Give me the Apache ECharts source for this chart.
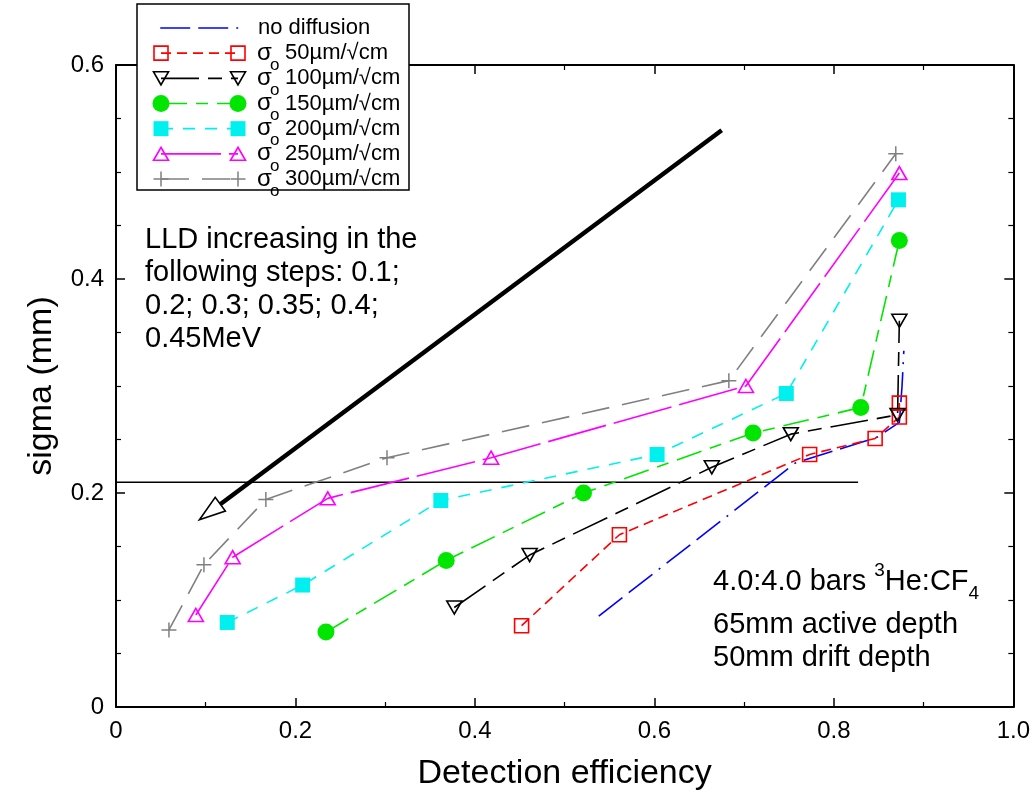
<!DOCTYPE html>
<html>
<head>
<meta charset="utf-8">
<script src="https://cdn.jsdelivr.net/npm/echarts@6/dist/echarts.min.js"></script>
<style>
  html, body { margin: 0; padding: 0; background: #fff; }
  #chart { width: 1033px; height: 800px; }
</style>
</head>
<body>
<div id="chart"></div>
<script>
// Detection efficiency (x) vs. position resolution sigma in mm (y),
// one curve per diffusion coefficient, points ordered by efficiency.
const noDiffusion = [[0.538, 0.085], [0.757, 0.228], [0.848, 0.252], [0.873, 0.266], [0.876, 0.300], [0.878, 0.333]];
const sigma50  = [[0.452, 0.076], [0.561, 0.161], [0.773, 0.236], [0.846, 0.251], [0.873, 0.271], [0.873, 0.284]];
const sigma100 = [[0.377, 0.093], [0.461, 0.142], [0.664, 0.224], [0.752, 0.255], [0.871, 0.273], [0.873, 0.361]];
const sigma150 = [[0.234, 0.070], [0.368, 0.137], [0.521, 0.200], [0.710, 0.256], [0.830, 0.280], [0.873, 0.436]];
const sigma200 = [[0.124, 0.079], [0.208, 0.114], [0.362, 0.193], [0.603, 0.236], [0.747, 0.293], [0.872, 0.474]];
const sigma250 = [[0.089, 0.086], [0.130, 0.140], [0.236, 0.195], [0.418, 0.233], [0.702, 0.300], [0.873, 0.499]];
const sigma300 = [[0.059, 0.072], [0.098, 0.133], [0.167, 0.194], [0.302, 0.233], [0.683, 0.305], [0.869, 0.517]];

// Legend captions (the sigma_o prefix is drawn separately)
const legendLabels = ['no diffusion', '50µm/√cm', '100µm/√cm', '150µm/√cm', '200µm/√cm', '250µm/√cm', '300µm/√cm'];

// Reference level and the LLD direction arrow (x0, y0, x1, y1)
const refLine = [[0, 0.21], [0.827, 0.21]];
const lldArrow = [[0.675, 0.539, 0.093, 0.175]];

// Axis ranges / ticks
const xRange = [0, 1.0];
const yRange = [0, 0.6];
const xStep = 0.2;
const yStep = 0.2;

const FONT = "'Liberation Sans', Arial, Helvetica, sans-serif";
const PLUS = 'path://M9,0H11V9H20V11H11V20H9V11H0V9H9Z';

const curves = [
  { data: noDiffusion, color: '#0000ff', dash: [30, 8, 30, 8, 2, 8], symbol: 'none' },
  { data: sigma50,  color: '#ff0000', dash: [10, 6], symbol: 'rect', size: 14, hollow: true },
  { data: sigma100, color: '#000000', dash: [38, 9, 14, 9], symbol: 'triangle', size: [15, 13], rotate: 180, hollow: true },
  { data: sigma150, color: '#00e600', dash: [26, 9, 12, 9], symbol: 'circle', size: 17 },
  { data: sigma200, color: '#00f0f0', dash: [12, 10], symbol: 'rect', size: 15 },
  { data: sigma250, color: '#ff00ff', dash: [60, 8], symbol: 'triangle', size: [15, 13], hollow: true },
  { data: sigma300, color: '#808080', dash: [28, 13], symbol: PLUS, size: 15 }
];

function curveSeries(c, xIdx, yIdx, data, extra) {
  return Object.assign({
    type: 'line',
    xAxisIndex: xIdx,
    yAxisIndex: yIdx,
    data: data,
    symbol: c.symbol,
    symbolSize: c.size || 10,
    symbolRotate: c.rotate || 0,
    showSymbol: c.symbol !== 'none',
    showAllSymbol: true,
    lineStyle: { color: c.color, width: 1.6, type: c.dash },
    itemStyle: c.hollow
      ? { color: 'rgba(0,0,0,0)', borderColor: c.color, borderWidth: 1.6 }
      : { color: c.color, borderWidth: 0 },
    emphasis: { disabled: true },
    silent: true,
    animation: false,
    z: 3
  }, extra || {});
}

const series = [];
curves.forEach(c => series.push(curveSeries(c, 0, 0, c.data)));

// straight reference line
series.push({
  type: 'line', xAxisIndex: 0, yAxisIndex: 0, data: refLine,
  symbol: 'none', lineStyle: { color: '#000', width: 1.5 }, silent: true, animation: false, z: 2
});

// thick arrow with an open head
series.push({
  type: 'custom', xAxisIndex: 0, yAxisIndex: 0, data: lldArrow,
  encode: { x: [0, 2], y: [1, 3] },
  silent: true, animation: false, z: 4,
  renderItem: function (params, api) {
    const p0 = api.coord([api.value(0), api.value(1)]);
    const p1 = api.coord([api.value(2), api.value(3)]);
    const dx = p1[0] - p0[0], dy = p1[1] - p0[1];
    const len = Math.hypot(dx, dy);
    const ux = dx / len, uy = dy / len;
    const headLen = 26, headHalf = 8.5;
    const base = [p1[0] - ux * headLen, p1[1] - uy * headLen];
    const left = [base[0] - uy * headHalf, base[1] + ux * headHalf];
    const right = [base[0] + uy * headHalf, base[1] - ux * headHalf];
    return {
      type: 'group',
      children: [
        { type: 'line', shape: { x1: p0[0], y1: p0[1], x2: base[0], y2: base[1] },
          style: { stroke: '#000', lineWidth: 4.5 } },
        { type: 'polygon', shape: { points: [p1, left, right] },
          style: { fill: '#fff', stroke: '#000', lineWidth: 1.6 } }
      ]
    };
  }
});

// legend samples: one short line per curve in a small helper grid
curves.forEach((c, i) => {
  const d = c.symbol === 'none' ? [[-0.01, i], [1.09, i]] : [[0, i], [1, i]];
  series.push(curveSeries(c, 2, 2, d, { clip: false, z: 12 }));
});

const tickFmt = v => (v === 0 ? '0' : v.toFixed(1));
const axisCommon = {
  axisLine: { show: true, onZero: false, lineStyle: { color: '#000', width: 2 } },
  axisTick: { show: true, inside: true, length: 9, lineStyle: { color: '#000', width: 1.5 } },
  minorTick: { show: true, length: 5, lineStyle: { color: '#000', width: 1.2 } },
  splitLine: { show: false },
  minorSplitLine: { show: false }
};

// text helpers (pieces placed one after another with measured widths)
const measureCtx = document.createElement('canvas').getContext('2d');
function textWidth(str, size) {
  measureCtx.font = size + 'px ' + FONT;
  return measureCtx.measureText(str).width;
}
function txt(x, y, str, size, extra) {
  return Object.assign({
    type: 'text', x: x, y: y, z: 20,
    style: { text: str, font: size + 'px ' + FONT, fill: '#000', textVerticalAlign: 'middle', verticalAlign: 'middle' }
  }, extra || {});
}

const graphics = [];
// legend frame
graphics.push({
  type: 'rect', z: 10, shape: { x: 137, y: 4, width: 272, height: 186 },
  style: { fill: '#fff', stroke: '#000', lineWidth: 1.5 }
});
legendLabels.forEach((lab, i) => {
  const y = 28 + i * 25.17;
  if (i === 0) {
    graphics.push(txt(258, y, lab, 22));
  } else {
    graphics.push(txt(257, y, 'σ', 24));
    graphics.push(txt(270, y + 12, 'o', 17));
    graphics.push(txt(285, y, lab, 22));
  }
});

// LLD note
['LLD increasing in the', 'following steps: 0.1;', '0.2; 0.3; 0.35; 0.4;', '0.45MeV'].forEach((line, i) => {
  graphics.push(txt(145, 240 + i * 33, line, 29));
});

// gas / geometry note
(function () {
  let x = 713, y = 582;
  const parts = [['4.0:4.0 bars ', 29, 0], ['3', 19, -11], ['He:CF', 29, 0], ['4', 19, 12]];
  parts.forEach(p => {
    graphics.push(txt(x, y + p[2], p[0], p[1]));
    x += textWidth(p[0], p[1]);
  });
  graphics.push(txt(713, 625, '65mm active depth', 29));
  graphics.push(txt(713, 658, '50mm drift depth', 29));
})();

const option = {
  backgroundColor: '#fff',
  animation: false,
  textStyle: { fontFamily: FONT },
  grid: [
    { left: 116, right: 17, top: 65, bottom: 93 },
    { left: 161, top: 28, width: 77, height: 151 }
  ],
  xAxis: [
    Object.assign({}, axisCommon, {
      gridIndex: 0, type: 'value', min: xRange[0], max: xRange[1], interval: xStep,
      minorTick: Object.assign({}, axisCommon.minorTick, { splitNumber: 2 }),
      axisLabel: { formatter: tickFmt, fontSize: 24, color: '#000', margin: 12, fontFamily: FONT },
      name: 'Detection efficiency', nameLocation: 'middle', nameGap: 50,
      nameTextStyle: { fontSize: 34, color: '#000', fontFamily: FONT }
    }),
    Object.assign({}, axisCommon, {
      gridIndex: 0, type: 'value', position: 'top', min: xRange[0], max: xRange[1], interval: xStep,
      minorTick: Object.assign({}, axisCommon.minorTick, { splitNumber: 2 }),
      axisLabel: { show: false }
    }),
    { gridIndex: 1, type: 'value', min: 0, max: 1, show: false }
  ],
  yAxis: [
    Object.assign({}, axisCommon, {
      gridIndex: 0, type: 'value', min: yRange[0], max: yRange[1], interval: yStep,
      minorTick: Object.assign({}, axisCommon.minorTick, { splitNumber: 4 }),
      axisLabel: { formatter: tickFmt, fontSize: 24, color: '#000', margin: 12, fontFamily: FONT },
      name: 'sigma (mm)', nameLocation: 'middle', nameGap: 57,
      nameTextStyle: { fontSize: 34, color: '#000', fontFamily: FONT }
    }),
    Object.assign({}, axisCommon, {
      gridIndex: 0, type: 'value', position: 'right', min: yRange[0], max: yRange[1], interval: yStep,
      minorTick: Object.assign({}, axisCommon.minorTick, { splitNumber: 4 }),
      axisLabel: { show: false }
    }),
    { gridIndex: 1, type: 'value', min: 0, max: 6, inverse: true, show: false }
  ],
  series: series,
  graphic: graphics
};

const chart = echarts.init(document.getElementById('chart'));
chart.setOption(option);
</script>
</body>
</html>
